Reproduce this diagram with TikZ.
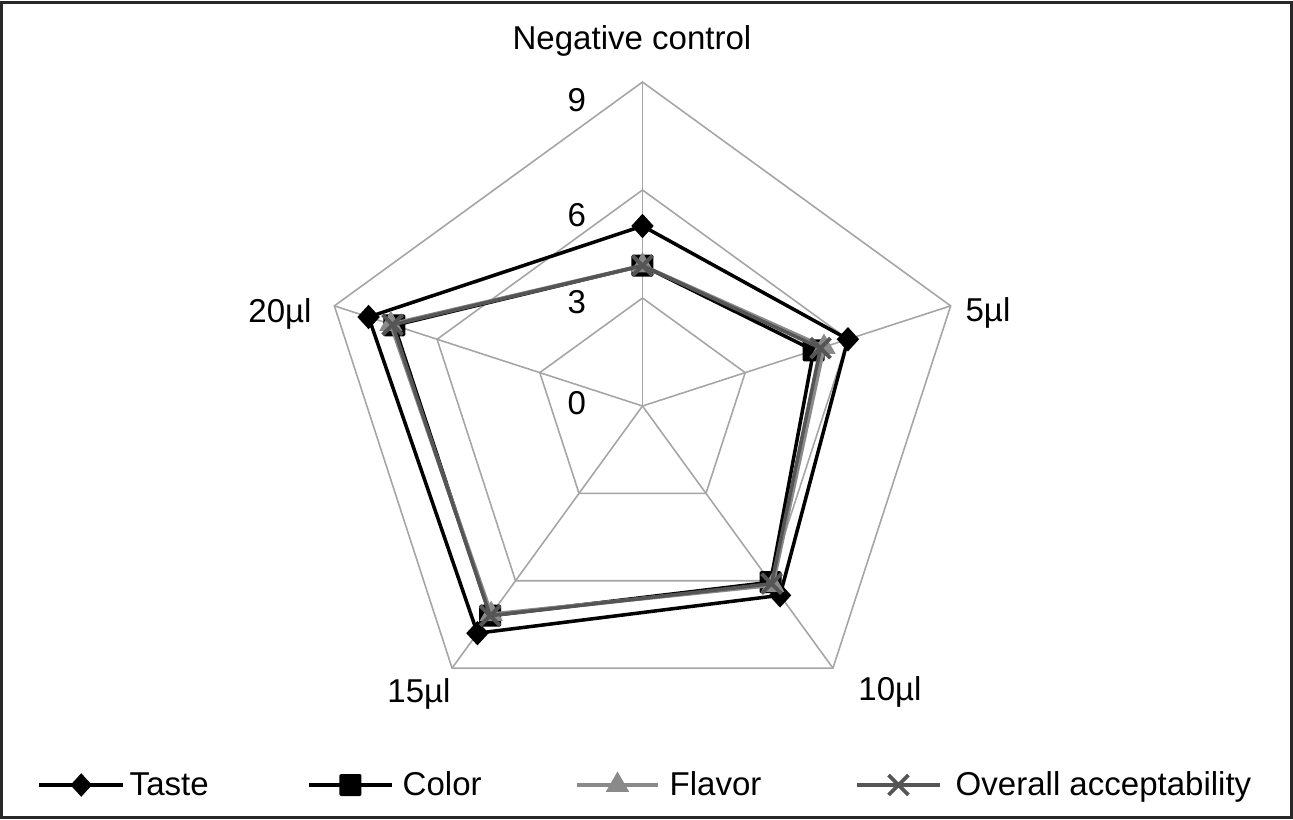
\documentclass[tikz,border=0pt]{standalone}
\usepackage{fontspec}
\setmainfont{Liberation Sans}
\usepackage{tikz}
\usetikzlibrary{shapes.geometric,shapes.misc}
\usepackage{xcolor}
\definecolor{rdgrid}{RGB}{165,165,165}
\definecolor{rdtaste}{RGB}{0,0,0}
\definecolor{rdcolor}{RGB}{0,0,0}
\definecolor{rdflavor}{RGB}{138,138,138}
\definecolor{rdoverall}{RGB}{85,85,85}
\definecolor{rdframe}{RGB}{40,40,40}
\tikzstyle{gridline} = [rdgrid, line width=0.45pt]
\tikzstyle{tasteline} = [line width=1pt, rdtaste, line join=round]
\tikzstyle{colorline} = [line width=1pt, rdcolor, line join=round]
\tikzstyle{flavorline} = [line width=1.1pt, rdflavor, line join=round]
\tikzstyle{overallline} = [line width=1pt, rdoverall, line join=round]
\tikzstyle{tastemark} = [diamond, fill=rdtaste, inner sep=0pt, minimum width=0.23cm, minimum height=0.25cm]
\tikzstyle{colormark} = [rectangle, fill=rdcolor, inner sep=0pt, minimum size=0.22cm, rounded corners=0.4pt]
\tikzstyle{flavormark} = [regular polygon, regular polygon sides=3, fill=rdflavor, inner sep=0pt, minimum size=0.27cm]
\tikzstyle{overallmark} = [cross out, draw=rdoverall, line width=1.1pt, inner sep=0pt, minimum size=0.16cm]
\tikzstyle{lbl} = [font=\fontsize{9.4}{11}\selectfont, text=black]

\begin{document}
\begin{tikzpicture}
\useasboundingbox (-6.425,-4.13) rectangle (6.505,4.06);
% Frame
\draw[rdframe, line width=0.03cm] (-6.405,-4.11) rectangle (6.485,4.04);

\begin{scope}[scale=0.36]
% Grid
\foreach \r in {3,6,9} {
    \draw[gridline] (90:\r) -- (18:\r) -- (-54:\r) -- (-126:\r) -- (162:\r) -- cycle;
}
\foreach \a in {90,18,-54,-126,162} {
    \draw[gridline] (0,0) -- (\a:9);
}

% Taste
\foreach \a/\v [count=\i] in {90/5.0,18/6.0,-54/6.5,-126/7.8,162/8.0}
    \coordinate (T\i) at (\a:\v);
\draw[tasteline] (T1) -- (T2) -- (T3) -- (T4) -- (T5) -- cycle;
\foreach \i in {1,...,5} \node[tastemark] (tm\i) at (T\i) {};

% Color
\foreach \a/\v [count=\i] in {90/3.9,18/5.0,-54/6.05,-126/7.2,162/7.25}
    \coordinate (C\i) at (\a:\v);
\draw[colorline] (C1) -- (C2) -- (C3) -- (C4) -- (C5) -- cycle;
\foreach \i in {1,...,5} \node[colormark] (cm\i) at (C\i) {};

% Flavor
\foreach \a/\v [count=\i] in {90/3.9,18/5.3,-54/6.15,-126/7.15,162/7.35}
    \coordinate (F\i) at (\a:\v);
\draw[flavorline] (F1) -- (F2) -- (F3) -- (F4) -- (F5) -- cycle;
\foreach \i in {1,...,5} \node[flavormark] (fm\i) at (F\i) {};

% Overall acceptability
\foreach \a/\v [count=\i] in {90/3.9,18/5.2,-54/6.1,-126/7.2,162/7.3}
    \coordinate (O\i) at (\a:\v);
\draw[overallline] (O1) -- (O2) -- (O3) -- (O4) -- (O5) -- cycle;
\foreach \i in {1,...,5} \node[overallmark] (om\i) at (O\i) {};
\end{scope}

% Scale values
\node[lbl] (s9) at (-0.657,3.06) {9};
\node[lbl] (s6) at (-0.657,1.91) {6};
\node[lbl] (s3) at (-0.657,1.04) {3};
\node[lbl] (s0) at (-0.657,0.03) {0};

% Axis labels
\node[lbl, anchor=base] (neg) at (-0.105,3.57) {Negative control};
\node[lbl, anchor=base] (c5) at (3.455,0.85) {5µl};
\node[lbl, anchor=base] (c10) at (2.475,-2.94) {10µl};
\node[lbl, anchor=base] (c15) at (-2.235,-2.96) {15µl};
\node[lbl, anchor=base] (c20) at (-3.625,0.84) {20µl};

% Legend
\draw[tasteline] (-6.03,-3.79) -- node[tastemark] (lt) {} (-5.195,-3.79);
\node[lbl, anchor=base west, inner sep=0pt] (ltx) at (-5.135,-3.89) {Taste};
\draw[colorline] (-3.335,-3.79) -- node[colormark] (lc) {} (-2.505,-3.79);
\node[lbl, anchor=base west, inner sep=0pt] (lcx) at (-2.405,-3.89) {Color};
\draw[flavorline] (-0.655,-3.79) -- node[flavormark] (lf) {} (0.155,-3.79);
\node[lbl, anchor=base west, inner sep=0pt] (lfx) at (0.265,-3.89) {Flavor};
\draw[overallline] (2.145,-3.79) -- node[overallmark] (lo) {} (2.975,-3.79);
\node[lbl, anchor=base west, inner sep=0pt] (lox) at (3.125,-3.89) {Overall acceptability};
\end{tikzpicture}
\end{document}
